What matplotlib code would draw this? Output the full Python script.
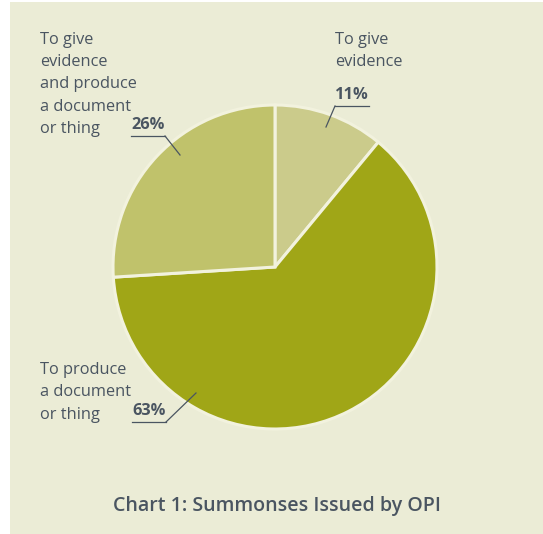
import matplotlib.pyplot as plt
from matplotlib.patches import Rectangle

# Summonses issued, share by type
categories = ['To give\nevidence', 'To produce\na document\nor thing',
              'To give\nevidence\nand produce\na document\nor thing']
shares = [11, 63, 26]
slice_colors = ['#CBCB8B', '#A0A617', '#C0C26B']

BG = '#EBECD6'
INK = '#4A5561'
W, H = 543, 534
LINE_STEP = 22.4  # pixel step between label lines

plt.rcParams['font.family'] = ['Open Sans', 'DejaVu Sans']

fig = plt.figure(figsize=(W / 100, H / 100), dpi=100, facecolor='white')
ax = fig.add_axes([0, 0, 1, 1])

# light panel behind the chart
ax.add_patch(Rectangle((10, 0), W - 10, H - 2, facecolor=BG, edgecolor='none', zorder=0))

cx, cy, r = 275, 267, 162
ax.pie(shares, colors=slice_colors, startangle=90, counterclock=False,
       center=(cx, cy), radius=r, frame=True,
       wedgeprops=dict(edgecolor='#F2F2DE', linewidth=2.2))
ax.set_xlim(0, W)
ax.set_ylim(0, H)
ax.set_aspect('equal')
ax.axis('off')

# category names: x and centre y of the first line (pixels from top)
name_pos = [(335, 37.5), (40, 368), (40, 37.5)]
# percentage label: left x, underline y, leader end point, side the leader leaves from
pct_pos = [
    (335, 106, (326, 127), 'left'),
    (132, 422, (196, 393), 'right'),
    (131, 136, (180, 155), 'right'),
]

for name, (nx, ny) in zip(categories, name_pos):
    for i, line in enumerate(name.split('\n')):
        ax.text(nx, H - (ny + i * LINE_STEP), line, ha='left', va='center_baseline',
                fontsize=11.8, color=INK)

for val, (px, py, end, side) in zip(shares, pct_pos):
    ax.text(px, H - py + 3, f'{val}%', ha='left', va='bottom', fontsize=11.8,
            fontweight='bold', color=INK)
    ulen = 34
    ax.plot([px, px + ulen], [H - py, H - py], color=INK, lw=0.9)
    start = px if side == 'left' else px + ulen
    ax.plot([start, end[0]], [H - py, H - end[1]], color=INK, lw=0.9)

ax.text(276.5, H - 506, 'Chart 1: Summonses Issued by OPI', ha='center', va='center',
        fontsize=14.1, fontweight='semibold', color=INK)

fig.savefig('out.png', dpi=100, facecolor='white')
